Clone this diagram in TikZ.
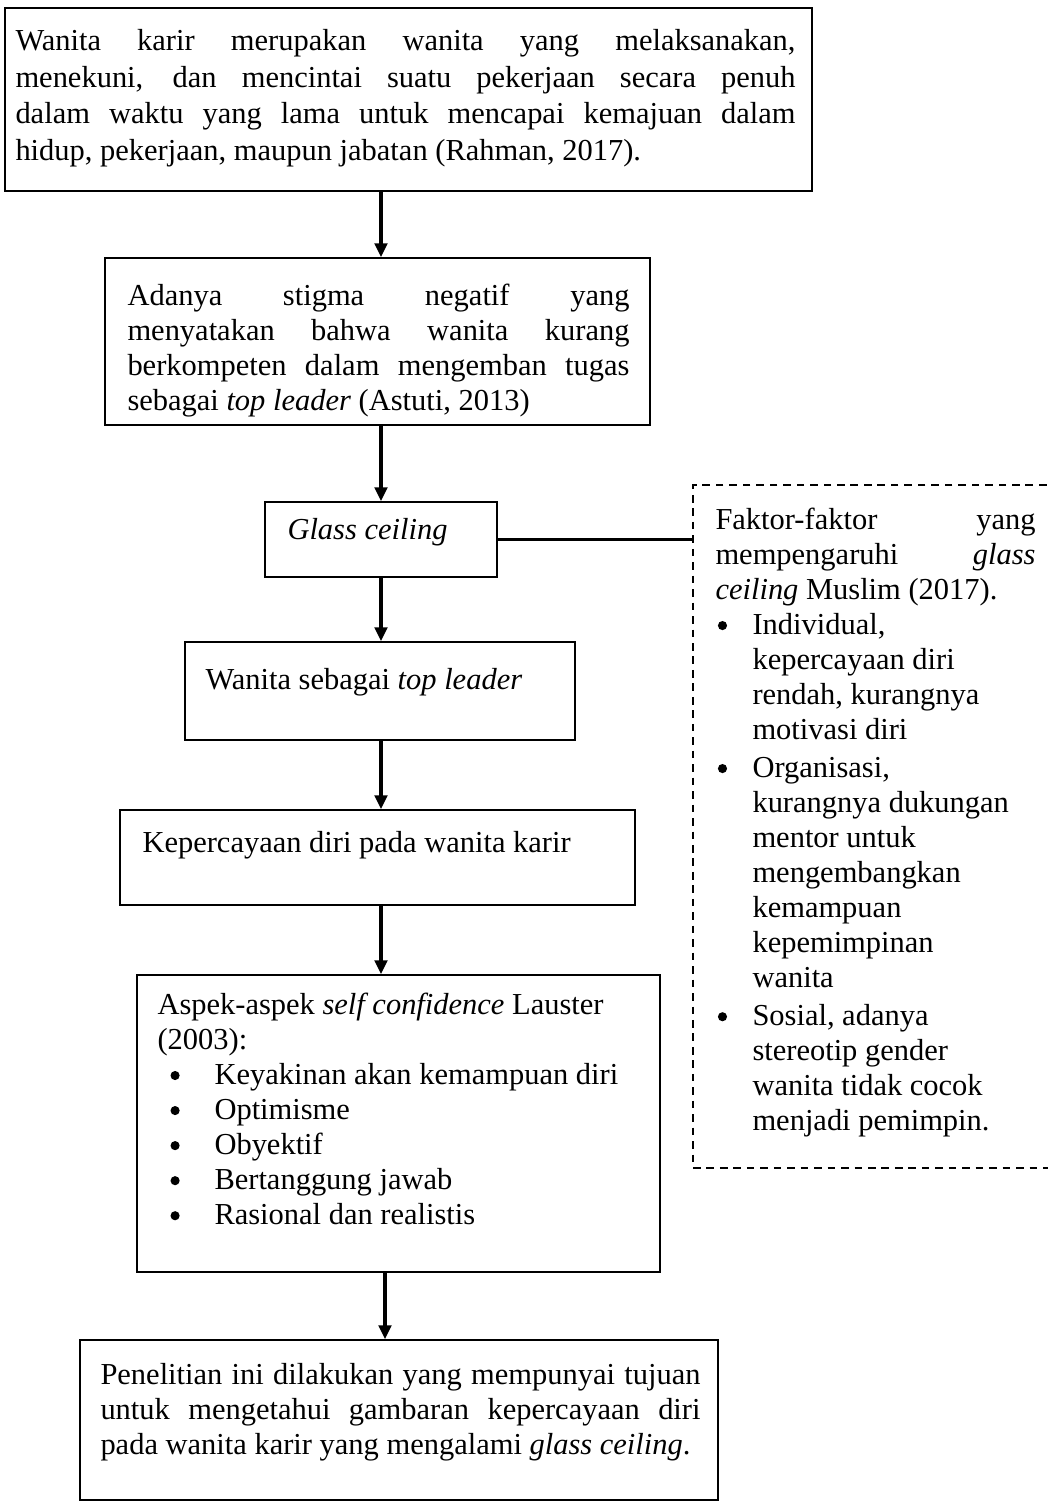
\documentclass[tikz,border=0pt]{standalone}
\usepackage{fontspec}
\setmainfont{Liberation Serif}
\usetikzlibrary{arrows.meta,fit}
\newdimen\pxu \pxu=0.3937pt
% round list marker
\newcommand\bdot{\tikz[baseline=0pt]\fill (1.8pt,3.4pt) circle (1.8pt);}
% list item with hanging indent: #1 indent, #2 marker offset, #3 text
\newcommand\bitem[3]{\par\noindent\hangindent=#1\hangafter=1\makebox[#1][l]{\hspace{#2}\bdot}#3\par}
\tikzset{
  box/.style={draw, line width=0.6pt, inner sep=0pt},
  dbox/.style={draw, dash pattern=on 3pt off 2.3pt, line width=0.45pt, inner sep=0pt},
  txt/.style={inner sep=0pt, anchor=north west, font=\fontsize{12pt}{13.8pt}\selectfont, align=justify},
  ltxt/.style={txt, align=left},
  arr/.style={line width=1.2pt, -{Triangle[length=5.5pt,width=5pt]}},
  link/.style={line width=1.2pt},
}
\begin{document}
\begin{tikzpicture}[x=0.3937pt,y=-0.3937pt]
\useasboundingbox (0,0) rectangle (1048,1502);
\clip (0,0) rectangle (1048,1502);

% frames
\node[box, fit={(5,8) (812,191)}] (b1) {};
\node[box, fit={(105,258) (650,425)}] (b2) {};
\node[box, fit={(265,502) (497,577)}] (gc) {};
\node[box, fit={(185,642) (575,740)}] (ws) {};
\node[box, fit={(120,810) (635,905)}] (kd) {};
\node[box, fit={(137,975) (660,1272)}] (as) {};
\node[box, fit={(80,1340) (718,1500)}] (pn) {};
\node[dbox, fit={(693,485) (1060,1168)}] (fb) {};

% texts
\node[txt, text width=780\pxu, font=\fontsize{12pt}{14.5pt}\selectfont] (t1) at (15,24) {\strut Wanita karir merupakan wanita yang melaksanakan,\linebreak
menekuni, dan mencintai suatu pekerjaan secara penuh\linebreak
dalam waktu yang lama untuk mencapai kemajuan dalam\linebreak
hidup, pekerjaan, maupun jabatan (Rahman, 2017).};

\node[txt, text width=502\pxu] (t2) at (127,280) {\strut Adanya stigma negatif yang\linebreak
menyatakan bahwa wanita kurang\linebreak
berkompeten dalam mengemban tugas\linebreak
sebagai \textit{top leader} (Astuti, 2013)};

\node[ltxt] (t3) at (287,514) {\strut\textit{Glass ceiling}};
\node[ltxt] (t4) at (205,664) {\strut Wanita sebagai \textit{top leader}};
\node[ltxt] (t5) at (142,827) {\strut Kepercayaan diri pada wanita karir};

\node[txt, text width=500\pxu] (t6) at (157,989) {\raggedright\strut Aspek-aspek \textit{self confidence} Lauster\newline
(2003):
\bitem{57\pxu}{13\pxu}{Keyakinan akan kemampuan diri}
\bitem{57\pxu}{13\pxu}{Optimisme}
\bitem{57\pxu}{13\pxu}{Obyektif}
\bitem{57\pxu}{13\pxu}{Bertanggung jawab}
\bitem{57\pxu}{13\pxu}{Rasional dan realistis}};

\node[txt, text width=600\pxu] (t7) at (100,1359) {\strut Penelitian ini dilakukan yang mempunyai tujuan\linebreak
untuk mengetahui gambaran kepercayaan diri\linebreak
pada wanita karir yang mengalami \textit{glass ceiling}.};

\node[txt, text width=320\pxu] (t8) at (715,504) {\strut Faktor-faktor yang\linebreak
mempengaruhi \textit{glass}\linebreak
\textit{ceiling} Muslim (2017).\par
\raggedright
\bitem{37\pxu}{2.4\pxu}{Individual,\newline kepercayaan diri\newline rendah, kurangnya\newline motivasi diri}
\vspace{1.1pt}
\bitem{37\pxu}{2.4\pxu}{Organisasi,\newline kurangnya dukungan\newline mentor untuk\newline mengembangkan\newline kemampuan\newline kepemimpinan\newline wanita}
\vspace{1.1pt}
\bitem{37\pxu}{2.4\pxu}{Sosial, adanya\newline stereotip gender\newline wanita tidak cocok\newline menjadi pemimpin.}};

% connectors
\coordinate (ax) at (381,0);
\coordinate (bx) at (385,0);
\draw[arr] (b1.south -| ax) -- (b2.north -| ax);
\draw[arr] (b2.south -| ax) -- (gc.north -| ax);
\draw[arr] (gc.south -| ax) -- (ws.north -| ax);
\draw[arr] (ws.south -| ax) -- (kd.north -| ax);
\draw[arr] (kd.south -| ax) -- (as.north -| ax);
\draw[arr] (as.south -| bx) -- (pn.north -| bx);
\draw[link] (gc.east) -- (gc.east -| fb.west);
\end{tikzpicture}
\end{document}
